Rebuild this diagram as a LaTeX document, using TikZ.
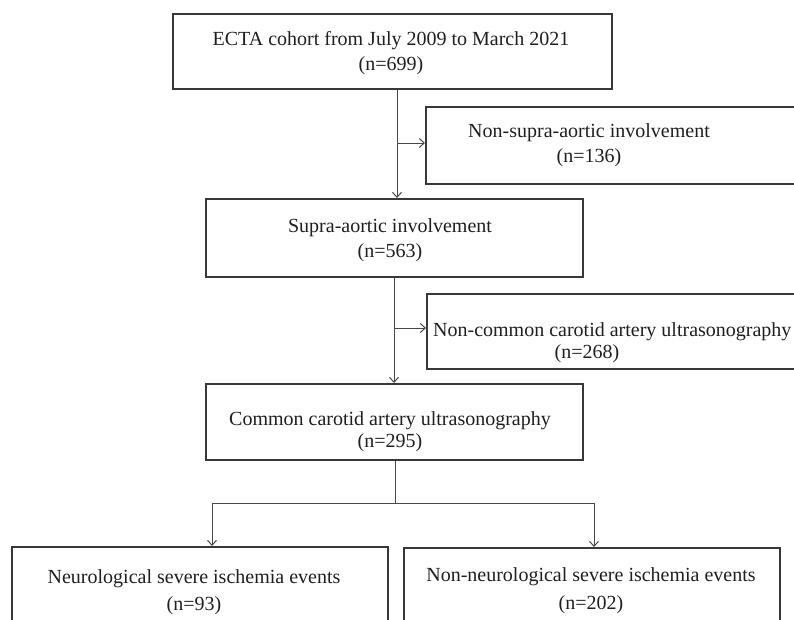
\documentclass[tikz,border=0pt]{standalone}
\usepackage{fontspec}
\setmainfont{Liberation Serif}
\usetikzlibrary{arrows.meta}
\begin{document}
\begin{tikzpicture}[x=1pt,y=-1pt,
  box/.style={draw=black!78, line width=1.5pt, inner sep=0pt, anchor=north west},
  conn/.style={draw=black!72, line width=1pt},
  arr/.style={conn, -{Straight Barb[length=5pt,width=9pt,line width=1pt]}},
  txt/.style={font=\fontsize{20}{25}\selectfont, align=center, text=black!88, inner sep=0pt}]
\useasboundingbox (0,0) rectangle (794,619);
\fill[white] (0,0) rectangle (794,619);
\clip (0,0) rectangle (794,619);
% boxes
\node[box, minimum width=439pt, minimum height=75pt] (b1) at (172,13) {};
\node[box, minimum width=395pt, minimum height=77pt] (r1) at (425,106) {};
\node[box, minimum width=377pt, minimum height=78pt] (b2) at (205,198) {};
\node[box, minimum width=394pt, minimum height=75pt] (r2) at (426,293) {};
\node[box, minimum width=377pt, minimum height=76pt] (b3) at (205,383) {};
\node[box, minimum width=376pt, minimum height=100pt] (bl) at (11,546) {};
\node[box, minimum width=376pt, minimum height=100pt] (br) at (403,547) {};
% texts
\node[txt] (t1) at (391,53) {ECTA cohort from July 2009 to March 2021\\(n=699)};
\node[txt] (tr1) at (589,145.5) {Non-supra-aortic involvement\\(n=136)};
\node[txt] (t2) at (390,240) {Supra-aortic involvement\\(n=563)};
\node[txt, anchor=west] (tr2a) at (433,332) {Non-common carotid artery ultrasonography};
\node[txt] (tr2b) at (587,354) {(n=268)};
\node[txt, font=\fontsize{20}{22}\selectfont] (t3) at (390,431.5) {Common carotid artery ultrasonography\\(n=295)};
\node[txt, font=\fontsize{20}{27}\selectfont] (tl) at (194,592) {Neurological severe ischemia events\\(n=93)};
\node[txt, font=\fontsize{20}{28}\selectfont] (tr) at (591,590.5) {Non-neurological severe ischemia events\\(n=202)};
% connectors
\coordinate (s1) at (397,143);
\coordinate (s2) at (394,328);
\coordinate (s3) at (395,503);
\coordinate (l3) at (212,503);
\coordinate (r3) at (594,503);
\draw[arr] (b1.south -| s1) -- (b2.north -| s1);
\draw[arr] (s1) -- (s1 -| r1.west);
\draw[arr] (b2.south -| s2) -- (b3.north -| s2);
\draw[arr] (s2) -- (s2 -| r2.west);
\draw[conn] (b3.south -| s3) -- (s3);
\draw[arr] (s3) -- (l3) -- (l3 |- bl.north);
\draw[arr] (s3) -- (r3) -- (r3 |- br.north);
\end{tikzpicture}
\end{document}
